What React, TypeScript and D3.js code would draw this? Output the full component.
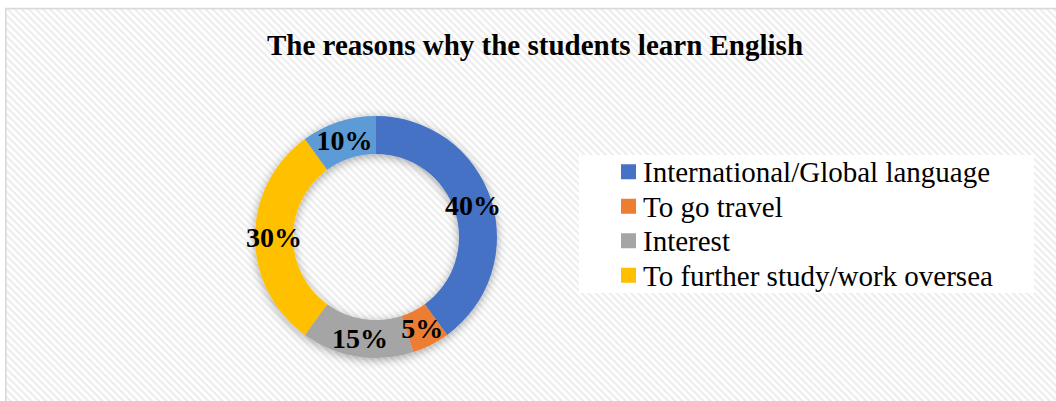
import React from "react";
import * as d3 from "d3";

const title = "The reasons why the students learn English";
const categories = [
  "International/Global language",
  "To go travel",
  "Interest",
  "To further study/work oversea",
  "",
];
const values = [40, 5, 15, 30, 10];
const colors = ["#4472C4", "#ED7D31", "#A5A5A5", "#FFC000", "#5B9BD5"];

const W = 1056;
const H = 401;
const cx = 376;
const cy = 237;
const outerR = 121;
const innerR = 83;

export default function App() {
  const total = d3.sum(values);
  const pie = d3
    .pie<number>()
    .sort(null)
    .value((d) => d)
    .startAngle(0)
    .endAngle(2 * Math.PI);
  const arcs = pie(values);
  const arcGen = d3.arc<d3.PieArcDatum<number>>().innerRadius(innerR).outerRadius(outerR);
  const fmt = d3.format(".0%");
  const legendItems = categories
    .map((c, i) => ({ c, i }))
    .filter((d) => d.c !== "");
  const legendY = d3
    .scaleBand<number>()
    .domain(legendItems.map((d) => d.i))
    .range([155, 293])
    .paddingInner(0)
    .paddingOuter(0);

  return (
    <svg
      width={W}
      height={H}
      style={{ position: "absolute", left: 0, top: 0, display: "block" }}
    >
      <defs>
        <pattern
          id="hatch"
          patternUnits="userSpaceOnUse"
          width="5"
          height="5"
          patternTransform="rotate(45)"
        >
          <rect x="0" y="0" width="5" height="5" fill="#ffffff" />
          <rect x="0" y="0" width="5" height="2.2" fill="#ededed" />
        </pattern>
        <filter id="shadow" x="-30%" y="-30%" width="160%" height="160%">
          <feDropShadow dx="0" dy="2" stdDeviation="5" floodColor="#000" floodOpacity="0.35" />
        </filter>
      </defs>
      <rect x={0} y={0} width={W} height={H} fill="#ffffff" />
      <rect
        x={5.8}
        y={8.6}
        width={W + 20}
        height={H + 20}
        fill="url(#hatch)"
        stroke="#d9d9d9"
        strokeWidth={1.6}
      />
      <text
        x={535}
        y={55}
        textAnchor="middle"
        fontFamily="'Liberation Serif', 'Times New Roman', serif"
        fontWeight="bold"
        fontSize={29}
        fill="#000"
      >
        {title}
      </text>
      <g transform={`translate(${cx},${cy})`}>
        <g filter="url(#shadow)">
          {arcs.map((a, i) => (
            <path key={i} d={arcGen(a) || ""} fill={colors[i]} />
          ))}
        </g>
        {arcs.map((a, i) => {
          const [x, y] = arcGen.centroid(a);
          return (
            <text
              key={"l" + i}
              x={x}
              y={y}
              dy="0.35em"
              textAnchor="middle"
              fontFamily="'Liberation Serif', 'Times New Roman', serif"
              fontWeight="bold"
              fontSize={28}
              fill="#000"
            >
              {fmt(values[i] / total)}
            </text>
          );
        })}
      </g>
      <rect x={579} y={155} width={455} height={138} fill="#ffffff" />
      {legendItems.map((d) => {
        const yc = (legendY(d.i) || 0) + legendY.bandwidth() / 2;
        return (
          <g key={"lg" + d.i}>
            <rect x={621} y={yc - 8} width={15} height={15} fill={colors[d.i]} />
            <text
              x={643}
              y={yc + 10}
              fontFamily="'Liberation Serif', 'Times New Roman', serif"
              fontSize={29}
              fill="#000"
            >
              {d.c}
            </text>
          </g>
        );
      })}
    </svg>
  );
}
